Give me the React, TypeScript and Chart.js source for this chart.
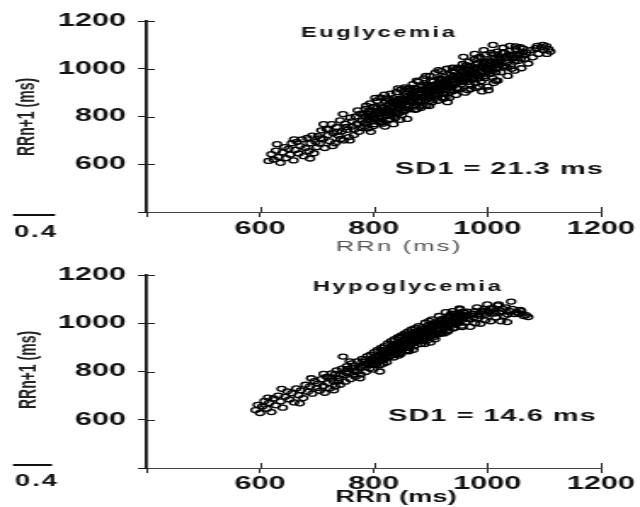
import React, { useEffect, useRef } from 'react';
import { Chart, registerables } from 'chart.js';

Chart.register(...registerables);

// The scanned figure is stretched horizontally; the charts are drawn on a
// narrower canvas and displayed stretched to the full width.
const CANVAS_W = 376;
const SX = 640 / CANVAS_W;

const axisMin = 400;
const axisMax = 1200;
const axisStep = 200;
const hiddenTickLabels = [400];

const panelTitles = ['Euglycemia', 'Hypoglycemia'];
const sd1Labels = ['SD1 = 21.3 ms', 'SD1 = 14.6 ms'];
const xAxisTitle = 'RRn (ms)';
const yAxisTitle = 'RRn+1 (ms)';
const scaleBarLabel = '0.4';

// [RRn, RRn+1] in ms
const euglycemia: [number, number][] = [
  [615,614],[620,642],[624,620],[628,657],[632,630],[636,606],[640,650],[643,672],[646,626],[650,664],
  [653,640],[656,688],[659,616],[662,660],[665,694],[668,645],[671,676],[674,704],[677,634],[680,668],
  [683,710],[686,655],[689,688],[692,720],[695,646],[698,694],[700,672],[630,684],[660,704],[688,624],
  [702,718],[705,686],[708,742],[711,706],[714,668],[717,748],[720,722],[723,696],[726,768],[729,730],
  [732,688],[735,756],[738,720],[741,784],[744,738],[747,700],[750,770],[753,744],[756,714],[759,795],
  [762,758],[765,722],[768,800],[771,770],[774,736],[777,812],[780,782],[712,768],[728,676],[746,810],
  [758,700],[772,826],[736,736],[752,756],[766,746],[779,752],[720,746],[742,706],[762,780],[706,708],
  [782,808],[784,758],[786,832],[788,784],[790,750],[792,822],[794,855],[796,780],[798,804],[800,840],
  [802,768],[804,820],[806,866],[808,794],[810,815],[812,880],[814,776],[816,838],[818,815],[820,758],
  [822,864],[824,830],[826,786],[828,854],[830,896],[832,810],[834,838],[836,876],[838,794],[840,902],
  [842,846],[844,816],[846,874],[848,912],[850,806],[852,856],[854,888],[856,828],[858,916],[860,862],
  [787,845],[795,736],[803,878],[811,776],[819,892],[827,810],[835,768],[843,918],[851,834],[859,790],
  [805,806],[823,876],[839,850],[847,786],[855,922],[815,826],[831,840],[845,860],[799,794],[829,824],
  [861,884],[863,830],[865,910],[867,860],[869,936],[871,886],[873,828],[875,916],[877,866],[879,946],
  [881,894],[883,836],[885,926],[887,878],[889,960],[891,904],[893,846],[895,934],[897,886],[899,970],
  [901,916],[903,860],[905,946],[907,894],[909,984],[911,920],[913,866],[915,958],[917,904],[919,990],
  [921,930],[923,874],[925,966],[927,910],[929,1000],[931,940],[933,878],[935,975],[937,918],[939,1005],
  [864,920],[870,846],[876,950],[884,866],[892,970],[898,844],[906,920],[914,994],[922,896],[930,860],
  [936,950],[868,896],[886,930],[902,886],[918,920],[926,946],[934,910],[880,910],[896,914],[910,936],
  [874,880],[890,886],[904,906],[920,956],[938,936],
  [941,945],[943,985],[945,890],[947,1005],[949,955],[951,915],[953,995],[955,935],[957,1020],[959,965],
  [961,900],[963,1000],[965,945],[967,1030],[969,972],[971,915],[973,1010],[975,955],[977,1040],[979,980],
  [981,920],[983,1018],[985,960],[987,1050],[989,990],[991,905],[993,1025],[995,970],[997,1060],[999,1000],
  [1001,925],[1003,1035],[1005,978],[1007,1066],[1009,1005],[1011,940],[1013,1045],[1015,985],[1017,1072],[1019,1015],
  [946,920],[958,1050],[966,910],[978,1062],[986,925],[994,1078],[1002,910],[1010,1100],[1018,950],[950,970],
  [962,968],[974,982],[990,1010],[1006,1010],[1014,1020],[954,950],[970,995],[982,970],[998,1030],[1016,1000],
  [1021,1048],[1024,985],[1027,1066],[1030,1010],[1033,1052],[1036,970],[1039,1075],[1042,1018],[1045,1058],[1048,992],
  [1051,1082],[1054,1032],[1057,1064],[1060,1002],[1063,1084],[1066,1040],[1069,1068],[1072,1022],[1076,1078],[1080,1048],
  [1085,1086],[1090,1062],[1095,1090],[1100,1078],[1104,1095],[1108,1082],[1111,1072],[1098,1100],[1088,1096],[1050,1094],
  [1028,1088],[1040,1096],[1034,1006],[1058,1090],[1025,1026],[1046,1044],[1064,1056],[1105,1062],
  [783,771],[789,812],[793,798],[797,826],[801,790],[806,835],[809,781],[813,842],[817,799],[821,822],
  [826,846],[829,790],[833,861],[837,815],[841,868],[844,834],[848,850],[853,821],[857,872],[862,845],
  [866,892],[869,857],[873,905],[878,882],[882,860],[887,912],[890,870],[894,902],[899,878],[903,930],
  [907,912],[911,885],[916,946],[919,918],[924,895],[928,952],[932,928],[937,904],[941,970],[944,940],
  [948,918],[953,972],[957,944],[961,985],[965,960],[969,935],[973,990],[977,962],[981,1000],[986,972],
  [989,948],[993,1008],[997,982],[1001,1015],[1005,990],[1009,962],[1013,1028],[1017,1004],[1022,1036],[1026,1012],
  [1031,1045],[1035,1026],[1041,1052],[1047,1030],[1053,1060],[1059,1042],
  [792,790],[808,820],[818,836],[834,855],[852,870],[868,880],[884,900],[898,925],[913,930],[929,945],
  [945,965],[960,975],[976,995],[992,1020],[1008,1030],[1023,1042],[1038,1060],[812,800],[828,818],[846,842],
  [863,866],[879,870],[895,892],[912,900],[927,925],[942,952],[959,948],[972,966],[988,982],[1004,1002],
  [1019,1028],[785,800],[824,802],[858,850],[893,930],[926,880],[963,1015],[996,960],[1029,1070],[871,920],
  [905,870],[939,990],[979,940],[1012,1060],[949,1000],[918,960],[887,845],[857,895],[829,870],[800,760],
  [1043,1000],[1062,1070],[955,990],[983,1045],[1015,950],[901,950],[876,830],[842,808],[816,770],[966,1010],
  [935,925],[921,880],
];

const hypoglycemia: [number, number][] = [
  [592,640],[596,662],[600,628],[604,655],[608,678],[612,646],[616,670],[620,632],[624,688],[628,660],
  [632,700],[636,676],[640,650],[644,695],[648,718],[652,684],[656,710],[660,672],[664,730],[668,702],
  [672,722],[676,690],[680,745],[684,716],[688,738],[692,708],[696,760],[700,732],[614,692],[638,728],
  [670,668],[690,772],
  [702,750],[705,720],[708,768],[711,740],[714,712],[717,778],[720,752],[723,730],[726,792],[729,760],
  [732,738],[735,805],[738,772],[741,745],[744,812],[747,784],[750,758],[753,822],[756,794],[759,768],
  [762,834],[765,804],[768,778],[771,842],[774,816],[777,788],[780,852],[783,824],[786,798],[789,864],
  [746,862],[712,790],[730,722],[758,842],[776,772],[788,834],[720,778],[766,822],[742,788],[754,810],
  [791,835],[793,812],[795,870],[797,842],[799,808],[801,880],[803,850],[805,830],[807,890],[809,860],
  [811,800],[813,898],[815,870],[817,846],[819,905],[821,878],[823,838],[825,916],[827,886],[829,866],
  [831,926],[833,894],[835,858],[837,934],[839,904],[841,880],[843,942],[845,912],[847,872],[849,950],
  [851,920],[853,896],[855,958],[857,928],[859,888],[861,966],[863,936],[865,912],[867,974],[869,944],
  [871,904],[873,980],[875,950],[877,926],[879,988],[794,852],[800,830],[806,866],[812,846],[818,886],
  [824,874],[830,898],[836,884],[842,916],[848,902],[854,932],[860,918],[866,946],[872,932],[878,962],
  [811,826],[820,864],[834,912],[846,932],[858,952],[870,960],[826,882],[840,892],[852,908],[864,922],
  [876,938],[816,888],[862,884],
  [881,952],[883,914],[885,984],[887,962],[889,936],[891,1002],[893,968],[895,930],[897,992],[899,976],
  [901,948],[903,1016],[905,984],[907,944],[909,1004],[911,990],[913,962],[915,1030],[917,998],[919,958],
  [921,1018],[923,1004],[925,978],[927,1046],[929,1010],[931,970],[933,1030],[935,1016],[937,990],[939,1050],
  [941,1020],[943,982],[945,1040],[947,1026],[949,1000],[951,1062],[953,1030],[955,990],[957,1048],[959,1034],
  [886,976],[894,954],[902,992],[910,976],[918,1012],[926,992],[934,1032],[942,1006],[950,1042],[958,1020],
  [890,914],[908,934],[924,958],[940,978],[956,984],
  [961,1004],[964,1048],[967,1018],[970,985],[973,1038],[976,1024],[979,1000],[982,1066],[985,1032],[988,998],
  [991,1052],[994,1040],[997,1012],[1000,1078],[1003,1046],[1006,1008],[1009,1060],[1012,1050],[1015,1024],[1018,1074],
  [1021,1044],[1024,1008],[1027,1060],[1030,1030],[1033,1066],[1036,1036],[1040,1050],[1044,1060],[1048,1038],[1052,1046],
  [1056,1040],[1060,1050],[1064,1030],[1068,1034],[1072,1026],[1042,1090],[1020,1078],[1005,1062],[990,1048],[975,1040],
  [1058,1055],[1035,1005],
  [792,826],[796,850],[799,829],[803,862],[806,842],[810,868],[814,848],[818,876],[821,858],[825,890],
  [828,862],[832,900],[836,874],[839,906],[843,882],[846,918],[850,890],[853,925],[857,898],[861,935],
  [864,908],[868,942],[871,918],[875,952],[879,928],[882,962],[886,938],[889,970],[893,946],[897,978],
  [900,955],[904,985],[908,962],[912,998],[916,970],[919,1004],[923,982],[927,1014],[931,990],[934,1022],
  [938,998],[942,1030],[946,1006],[950,1035],[954,1012],[958,1045],
  [808,845],[822,870],[838,888],[852,905],[866,922],[880,945],[895,962],[911,975],[926,995],[941,1010],
  [956,1030],[817,832],[831,878],[844,866],[859,912],[873,928],[888,952],[902,968],[917,990],[933,1008],
  [948,1018],[801,848],[815,860],[829,884],[848,876],[862,898],[877,940],[891,935],[906,950],[921,1000],
  [937,1040],[952,1058],[965,1030],[978,1050],[995,1060],[1011,1062],[1026,1050],[982,1020],[997,1035],[1013,1040],
  [727,775],[738,760],[752,795],[764,788],[778,820],[785,848],[761,815],[733,790],[771,800],[782,840],
  [870,890],[885,925],[900,920],[915,955],[930,965],[860,950],[845,940],[872,965],[898,1010],
];

const FONT = '"Liberation Sans", Arial, Helvetica, sans-serif';
const INK = '#111';

type Layout = {
  top: number; // page y of the canvas
  height: number;
  padTop: number;
  xAxisH: number;
  xTickPad: number;
  titleAt: [number, number];
  sd1At: [number, number];
  xTitleAt: [number, number];
  xTitleFont: string;
  xTitleColor: string;
  xTitleSpacing: number;
  yTitleAt: [number, number];
  barY: number;
  barX: [number, number];
  barLabelAt: [number, number];
};

// screen-space positions (page pixels); x converted to canvas space with SX
const layouts: Layout[] = [
  {
    top: 0, height: 262, padTop: 21, xAxisH: 50, xTickPad: 1,
    titleAt: [379, 33], sd1At: [395, 169],
    xTitleAt: [399, 247], xTitleFont: `15px ${FONT}`, xTitleColor: '#555', xTitleSpacing: 1.3,
    yTitleAt: [28, 117], barY: 215, barX: [13, 55], barLabelAt: [14, 233],
  },
  {
    top: 250, height: 257, padTop: 25, xAxisH: 39, xTickPad: 0,
    titleAt: [408, 37], sd1At: [388, 166],
    xTitleAt: [396, 248], xTitleFont: `bold 16px ${FONT}`, xTitleColor: INK, xTitleSpacing: 0,
    yTitleAt: [30, 120], barY: 215, barX: [13, 52], barLabelAt: [15, 232],
  },
];

const PLOT_LEFT = 86; // canvas px (page 146)
const PLOT_RIGHT = 353; // canvas px (page 601)

function drawText(ctx: any, s: string, x: number, y: number, font: string, color: string, align: string, spacing = 0) {
  ctx.font = font;
  ctx.fillStyle = color;
  ctx.textAlign = align;
  ctx.textBaseline = 'middle';
  ctx.letterSpacing = `${spacing}px`;
  ctx.fillText(s, x, y);
  ctx.letterSpacing = '0px';
}

function makeDecor(idx: number) {
  const L = layouts[idx];
  return {
    id: 'decor' + idx,
    afterDraw(chart: any) {
      const { ctx, chartArea, scales } = chart;
      const xs = scales.x;
      const ys = scales.y;
      ctx.save();
      // inner halves of the crossing tick marks
      ctx.strokeStyle = '#222';
      ctx.lineWidth = 1;
      ys.ticks.forEach((t: any) => {
        if (t.value === axisMin) return;
        const py = Math.round(ys.getPixelForValue(t.value)) + 0.5;
        ctx.beginPath();
        ctx.moveTo(chartArea.left, py);
        ctx.lineTo(chartArea.left + 5, py);
        ctx.stroke();
      });
      xs.ticks.forEach((t: any) => {
        if (t.value === axisMin) return;
        const px = Math.round(xs.getPixelForValue(t.value)) + 0.5;
        ctx.beginPath();
        ctx.moveTo(px, chartArea.bottom);
        ctx.lineTo(px, chartArea.bottom - 5);
        ctx.stroke();
      });

      drawText(ctx, panelTitles[idx], L.titleAt[0] / SX, L.titleAt[1], `bold 14px ${FONT}`, INK, 'center', 1.4);
      drawText(ctx, sd1Labels[idx], L.sd1At[0] / SX, L.sd1At[1], `bold 17px ${FONT}`, INK, 'left', 0.6);
      drawText(ctx, xAxisTitle, L.xTitleAt[0] / SX, L.xTitleAt[1], L.xTitleFont, L.xTitleColor, 'center', L.xTitleSpacing);

      ctx.save();
      ctx.translate(L.yTitleAt[0] / SX, L.yTitleAt[1]);
      ctx.rotate(-Math.PI / 2);
      drawText(ctx, yAxisTitle, 0, 0, `bold 14px ${FONT}`, '#222', 'center');
      ctx.restore();

      ctx.fillStyle = INK;
      ctx.fillRect(L.barX[0] / SX, L.barY - 1, (L.barX[1] - L.barX[0]) / SX, 2);
      drawText(ctx, scaleBarLabel, L.barLabelAt[0] / SX, L.barLabelAt[1], `bold 16px ${FONT}`, INK, 'left', 1.2);
      ctx.restore();
    },
  };
}

function Panel({ idx }: { idx: number }) {
  const ref = useRef<HTMLCanvasElement | null>(null);
  const L = layouts[idx];
  useEffect(() => {
    const canvas = ref.current;
    if (!canvas) return;
    const points = idx === 0 ? euglycemia : hypoglycemia;
    const tickFont = { family: FONT, size: 18, weight: 'bold' as const };
    const chart = new Chart(canvas, {
      type: 'scatter',
      data: {
        datasets: [
          {
            label: panelTitles[idx],
            data: points.map(([x, y]) => ({ x, y })),
            pointRadius: 2.5,
            pointHoverRadius: 2.5,
            pointBorderWidth: 1.3,
            borderColor: '#000',
            backgroundColor: 'rgba(0,0,0,0)',
          },
        ],
      },
      options: {
        responsive: false,
        animation: false,
        devicePixelRatio: 1,
        events: [],
        layout: { padding: { top: L.padTop, right: CANVAS_W - PLOT_RIGHT, left: 0, bottom: 0 } },
        plugins: { legend: { display: false }, tooltip: { enabled: false }, title: { display: false } },
        scales: {
          x: {
            type: 'linear',
            min: axisMin,
            max: axisMax,
            ticks: {
              stepSize: axisStep,
              autoSkip: false,
              maxRotation: 0,
              padding: L.xTickPad,
              color: INK,
              font: tickFont,
              callback: (v: any) => (hiddenTickLabels.includes(Number(v)) ? '' : String(v)),
            },
            grid: { drawOnChartArea: false, drawTicks: true, tickLength: 5, color: '#222' },
            border: { color: '#444', width: 1 },
            afterFit: (s: any) => {
              s.height = L.xAxisH;
            },
          },
          y: {
            type: 'linear',
            min: axisMin,
            max: axisMax,
            ticks: {
              stepSize: axisStep,
              autoSkip: false,
              padding: 7,
              color: INK,
              font: tickFont,
              callback: (v: any) => (hiddenTickLabels.includes(Number(v)) ? '' : String(v)),
            },
            grid: { drawOnChartArea: false, drawTicks: true, tickLength: 5, color: '#222' },
            border: { color: '#111', width: 1.8 },
            afterFit: (s: any) => {
              s.width = PLOT_LEFT;
            },
          },
        },
      },
      plugins: [makeDecor(idx)],
    } as any);
    return () => chart.destroy();
  }, [idx]);

  return (
    <canvas
      ref={ref}
      width={CANVAS_W}
      height={L.height}
      style={{ position: 'absolute', left: 0, top: L.top, width: '640px', height: `${L.height}px`, display: 'block' }}
    />
  );
}

export default function App() {
  return (
    <div style={{ position: 'absolute', left: 0, top: 0, width: 640, height: 507, background: '#fff', overflow: 'hidden' }}>
      <Panel idx={0} />
      <Panel idx={1} />
    </div>
  );
}
